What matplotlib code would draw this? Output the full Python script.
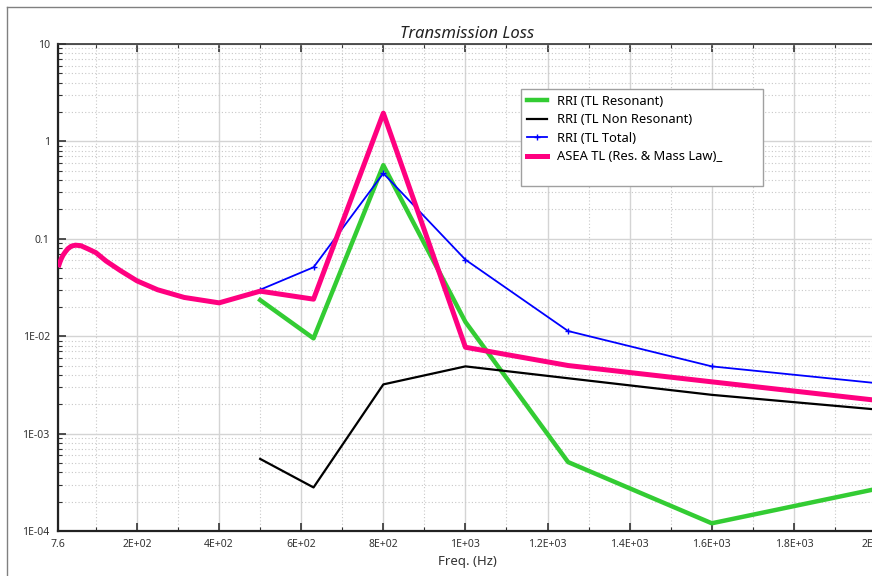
import matplotlib
matplotlib.use("Agg")
import matplotlib.pyplot as plt
from matplotlib.ticker import FixedLocator, LogLocator, NullFormatter
from matplotlib.patches import Rectangle
from matplotlib.lines import Line2D

plt.rcParams['font.family'] = ['Noto Sans', 'DejaVu Sans']

# ASEA TL (Res. & Mass Law) - third octave bands
freq_asea = [10, 12.5, 16, 20, 25, 31.5, 40, 50, 63, 80, 100, 125, 160, 200,
             250, 315, 400, 500, 630, 800, 1000, 1250, 1600, 2000]
tl_asea = [0.054, 0.058, 0.063, 0.068, 0.073, 0.079, 0.084, 0.086, 0.085, 0.079,
           0.072, 0.059, 0.047, 0.037, 0.030, 0.025, 0.022, 0.029, 0.024, 1.95,
           0.0077, 0.0050, 0.0034, 0.0022]

# RRI results
freq_rri = [500, 630, 800, 1000, 1250, 1600, 2000]
tl_res = [0.0235, 0.0095, 0.57, 0.014, 0.00051, 0.00012, 0.00027]
tl_nonres = [0.00055, 0.00028, 0.0032, 0.0049, 0.0037, 0.0025, 0.00177]
tl_total = [0.030, 0.051, 0.47, 0.061, 0.0113, 0.0049, 0.0033]

labels = ["RRI (TL Resonant)", "RRI (TL Non Resonant)", "RRI (TL Total)",
          "ASEA TL (Res. & Mass Law)_"]

xticks = [7.6, 200, 400, 600, 800, 1000, 1200, 1400, 1600, 1800, 2000]
xtick_labels = ["7.6", "2E+02", "4E+02", "6E+02", "8E+02", "1E+03", "1.2E+03",
                "1.4E+03", "1.6E+03", "1.8E+03", "2E+03"]
yticks = [1e-4, 1e-3, 1e-2, 0.1, 1, 10]
ytick_labels = ["1E-04", "1E-03", "1E-02", "0.1", "1", "10"]

W, H = 872, 576
fig = plt.figure(figsize=(W / 100, H / 100), dpi=100)
ax = fig.add_axes([58 / W, (H - 531) / H, (876 - 58) / W, (531 - 44) / H])

ax.plot(freq_rri, tl_res, color='#33cc33', lw=3.2, label=labels[0], zorder=3)
ax.plot(freq_rri, tl_nonres, color='black', lw=1.6, label=labels[1], zorder=3)
ax.plot(freq_rri, tl_total, color='#0000ff', lw=1.3, marker='+', ms=5, mew=1,
        label=labels[2], zorder=3)
ax.plot(freq_asea, tl_asea, color='#ff0080', lw=3.6, label=labels[3], zorder=3)

ax.set_yscale('log')
ax.set_xlim(7.6, 2000)
ax.set_ylim(1e-4, 10)

ax.xaxis.set_major_locator(FixedLocator(xticks))
ax.set_xticklabels(xtick_labels)
ax.xaxis.set_minor_locator(FixedLocator(list(range(100, 2000, 200))))
ax.yaxis.set_major_locator(FixedLocator(yticks))
ax.set_yticklabels(ytick_labels)
ax.yaxis.set_minor_locator(LogLocator(base=10, subs=range(2, 10), numticks=20))
ax.yaxis.set_minor_formatter(NullFormatter())

ax.tick_params(which='both', direction='in', top=True, right=False,
               colors='#333333', labelsize=7.5)
ax.tick_params(which='major', length=6, width=1.2, pad=6)
ax.tick_params(which='minor', length=3, width=0.8)

ax.grid(which='major', color='#d4d4d4', lw=1, ls='-', zorder=0)
ax.grid(which='minor', color='#c8c8c8', lw=0.8, ls=(0, (1, 2)), zorder=0)

for s in ['left', 'bottom']:
    ax.spines[s].set_linewidth(1.6)
    ax.spines[s].set_color('#222222')
ax.spines['top'].set_linewidth(1.2)
ax.spines['top'].set_color('#333333')
ax.spines['right'].set_visible(False)

ax.set_title("Transmission Loss", fontstyle='italic', fontsize=12, pad=4,
             color='#222222')
ax.set_xlabel("Freq. (Hz)", fontsize=9.5, color='#333333', labelpad=3)

# legend box
box = Rectangle((521 / W, 1 - 186 / H), (763 - 521) / W, (186 - 89) / H,
                transform=fig.transFigure, facecolor='white', edgecolor='#a0a0a0',
                lw=1, zorder=4)
fig.patches.append(box)
leg = fig.legend(loc='upper left', bbox_to_anchor=(521 / W, 1 - 89 / H),
                 frameon=False, fontsize=9.3, handlelength=1.6,
                 handletextpad=0.75, labelspacing=0.42, borderpad=0.25,
                 borderaxespad=0.2)
leg.set_zorder(5)

# outer window frame
fig.add_artist(Line2D([7 / W, 7 / W], [0, 1 - 7 / H], transform=fig.transFigure,
                      color='#808080', lw=1))
fig.add_artist(Line2D([7 / W, 1], [1 - 7 / H, 1 - 7 / H], transform=fig.transFigure,
                      color='#808080', lw=1))

fig.savefig("out.png", dpi=100)
